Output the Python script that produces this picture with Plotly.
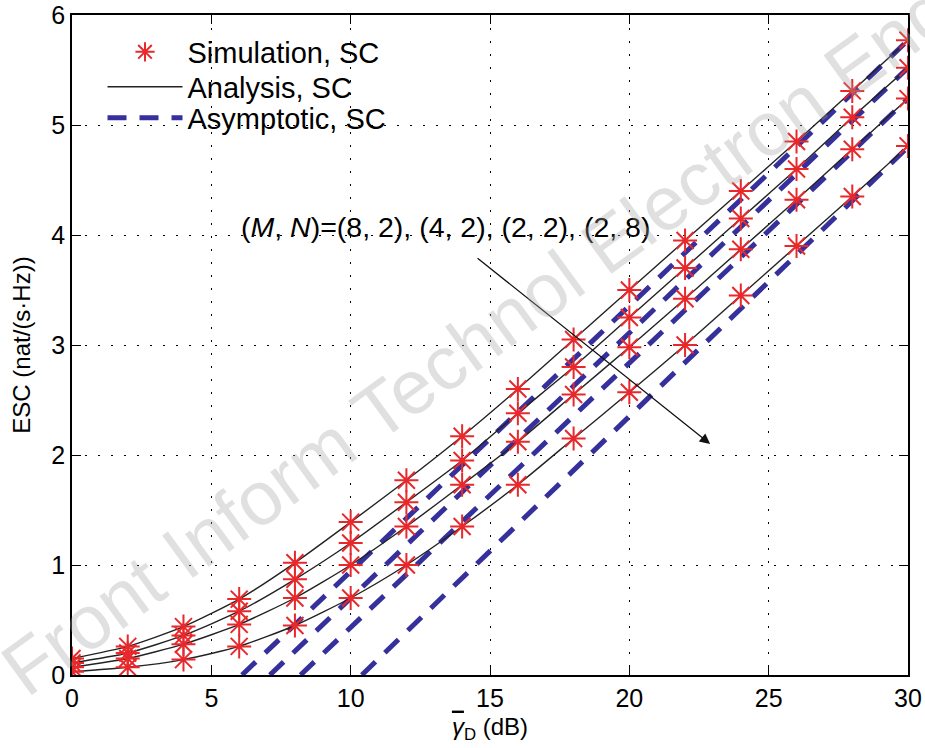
import plotly.graph_objects as go

# ---- data ----
snr_db = [0, 2, 4, 6, 8, 10, 12, 14, 16, 18, 20, 22, 24, 26, 28, 30]
labels = ["(8, 2)", "(4, 2)", "(2, 2)", "(2, 8)"]

esc_82 = [0.15, 0.26, 0.44, 0.69, 1.02, 1.39, 1.77, 2.17, 2.60, 3.05, 3.50, 3.95, 4.40, 4.85, 5.31, 5.77]
esc_42 = [0.11, 0.20, 0.36, 0.58, 0.87, 1.20, 1.57, 1.95, 2.38, 2.80, 3.25, 3.70, 4.15, 4.60, 5.07, 5.52]
esc_22 = [0.07, 0.15, 0.28, 0.46, 0.70, 1.00, 1.35, 1.73, 2.12, 2.55, 2.98, 3.42, 3.87, 4.32, 4.78, 5.24]
esc_28 = [0.03, 0.07, 0.14, 0.26, 0.45, 0.70, 1.00, 1.35, 1.73, 2.15, 2.57, 3.00, 3.45, 3.90, 4.35, 4.81]

asym_x_82 = [6.1, 30]
asym_y_82 = [0.0, 5.77]
asym_x_42 = [7.1, 30]
asym_y_42 = [0.0, 5.52]
asym_x_22 = [8.2, 30]
asym_y_22 = [0.0, 5.24]
asym_x_28 = [10.4, 30]
asym_y_28 = [0.0, 4.80]

x_ticks = [0, 5, 10, 15, 20, 25, 30]
y_ticks = [0, 1, 2, 3, 4, 5, 6]

sim_series = [esc_82, esc_42, esc_22, esc_28]
asym_series = [(asym_x_82, asym_y_82), (asym_x_42, asym_y_42),
               (asym_x_22, asym_y_22), (asym_x_28, asym_y_28)]

RED = "#e8282b"
BLUE = "#35309c"
FONT = "Liberation Sans, Arial, sans-serif"

fig = go.Figure()

# asymptotic (dashed)
for i, (ax_, ay_) in enumerate(asym_series):
    fig.add_trace(go.Scatter(
        x=ax_, y=ay_, mode="lines",
        line=dict(color=BLUE, width=5, dash="19px,13px"),
        name="Asymptotic, SC", legendgroup="asym", showlegend=(i == 0),
        legend="legend3"))

# analysis (solid)
for i, ys in enumerate(sim_series):
    fig.add_trace(go.Scatter(
        x=snr_db, y=ys, mode="lines", line=dict(color="#222222", width=1.4, shape="spline", smoothing=0.6),
        name="Analysis, SC", legendgroup="ana", showlegend=(i == 0), legend="legend2"))

# simulation (markers)
for i, ys in enumerate(sim_series):
    fig.add_trace(go.Scatter(
        x=snr_db, y=ys, mode="markers",
        marker=dict(symbol="asterisk-open", size=20, color=RED, line=dict(color=RED, width=2)),
        name="Simulation, SC", legendgroup="sim", showlegend=(i == 0), legend="legend"))

axis_common = dict(
    showline=True, linecolor="black", linewidth=1.6, mirror="ticks",
    ticks="inside", ticklen=9, tickwidth=1.4, tickcolor="black",
    showgrid=True, gridcolor="black", gridwidth=1.2, griddash="2px,11px",
    zeroline=False, automargin=False, ticklabeloverflow="allow",
    tickfont=dict(family=FONT, size=25, color="black"),
)

legend_common = dict(x=0.0365, xanchor="left", yanchor="middle", bgcolor="rgba(255,255,255,0)",
                     borderwidth=0, font=dict(family=FONT, size=29), itemwidth=75)

fig.update_layout(
    width=925, height=748,
    margin=dict(l=71.5, r=17, t=15, b=73, autoexpand=False),
    paper_bgcolor="white", plot_bgcolor="white",
    font=dict(family=FONT, color="black"),
    xaxis=dict(range=[0, 30], tickvals=x_ticks, **axis_common,
               title=dict(text="<span style='text-decoration:overline'><i>γ</i></span><sub>D</sub> (dB)",
                          font=dict(family=FONT, size=24), standoff=7)),
    yaxis=dict(range=[0, 6], tickvals=y_ticks, **axis_common,
               title=dict(text="ESC (nat/(s·Hz))", font=dict(family=FONT, size=24), standoff=14)),
    legend=dict(y=0.944, **legend_common),
    legend2=dict(y=0.891, **legend_common),
    legend3=dict(y=0.844, **legend_common),
    showlegend=True,
)

# arrow
fig.add_annotation(x=22.9, y=2.1, ax=14.5, ay=3.8, xref="x", yref="y", axref="x", ayref="y",
                   showarrow=True, arrowhead=2, arrowsize=1.6, arrowwidth=1.3, arrowcolor="#111111",
                   text="")
# label text
fig.add_annotation(x=13.4, y=4.07, xref="x", yref="y", showarrow=False,
                   text="(<i>M</i>, <i>N</i>)=" + ", ".join(labels),
                   font=dict(family=FONT, size=28.5, color="black"))

# watermark
fig.add_annotation(x=0.485, y=0.51, xref="paper", yref="paper", showarrow=False,
                   text="Front Inform Technol Electron Eng", textangle=-36,
                   font=dict(family=FONT, size=76, color="rgba(160,160,160,0.33)"))

fig.write_html("out.html", config={"displayModeBar": False},
               post_script="document.body.style.margin='0px';")
